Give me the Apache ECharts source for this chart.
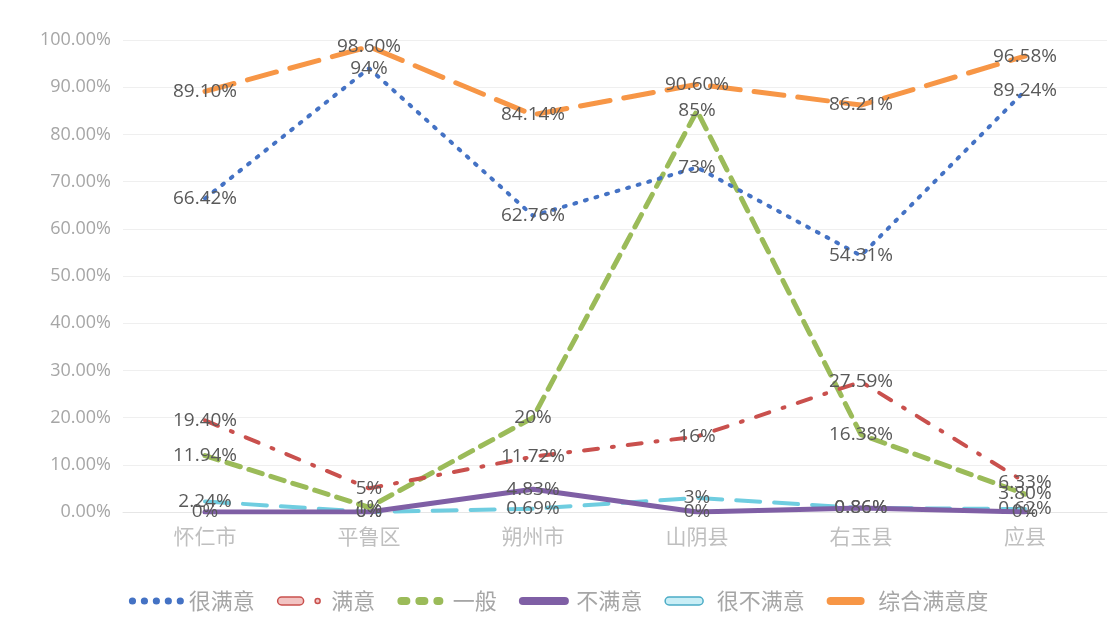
<!DOCTYPE html>
<html><head><meta charset="utf-8">
<script src="https://cdn.jsdelivr.net/npm/echarts@6/dist/echarts.min.js"></script>
<style>html,body{margin:0;padding:0;background:#fff}#c{width:1117px;height:639px}</style>
</head><body><div id="c"></div>
<script>
const categories = ['怀仁市','平鲁区','朔州市','山阴县','右玉县','应县'];
const seriesNames = ['很满意','满意','一般','不满意','很不满意','综合满意度'];
const veryGood = [66.42, 94, 62.76, 73, 54.31, 89.24];
const good = [19.40, 5, 11.72, 16, 27.59, 6.33];
const normal = [11.94, 1, 20, 85, 16.38, 3.80];
const bad = [0, 0, 4.83, 0, 0.86, 0];
const veryBad = [2.24, 0, 0.69, 3, 0.86, 0.62];
const overall = [89.10, 98.60, 84.14, 90.60, 86.21, 96.58];
const yTicks = [0,10,20,30,40,50,60,70,80,90,100];

const font = '"Open Sans","Noto Sans CJK SC",sans-serif';
function fmtLabel(p){
  const v = p.value;
  return Number.isInteger(v) ? v + '%' : v.toFixed(2) + '%';
}
function mk(name, data, color, width, type, z){
  return {
    name, type:'line', data, z,
    symbol:'circle', symbolSize:0.1, showSymbol:true,
    lineStyle:{color, width, type, cap:'round'},
    itemStyle:{color},
    label:{show:true, position:'inside', color:'#595959', fontSize:19, fontFamily:font, formatter:fmtLabel},
    emphasis:{disabled:true}, animation:false
  };
}
function circ(cx,cy,r){return `M${cx-r},${cy} a${r},${r} 0 1,0 ${2*r},0 a${r},${r} 0 1,0 ${-2*r},0 Z `;}
function rr(x,w,h){const r=h/2;return `M${x+r},0 L${x+w-r},0 A${r},${r} 0 0,1 ${x+w-r},${h} L${x+r},${h} A${r},${r} 0 0,1 ${x+r},0 Z `;}
const iconDots = 'path://' + [3,13,23,33,43].map(c=>circ(c,4,3)).join('');
const iconDashDot = 'path://' + rr(0,26,8) + circ(40,4,2.5);
const iconDash = 'path://' + rr(0,13,8) + rr(18,13,8) + rr(36,10,8);
const iconLine = 'path://' + rr(0,50,8);
const iconLong = 'path://' + rr(0,38,8);
const chart = echarts.init(document.getElementById('c'));
chart.setOption({
  backgroundColor:'#fff',
  animation:false,
  grid:{left:123, right:10, top:40, bottom:127},
  legend:{
    bottom:22, left:'center', itemWidth:55, itemHeight:8, itemGap:22,
    textStyle:{color:'#a6a6a6', fontSize:22, fontFamily:'"Noto Sans CJK SC",sans-serif'},
    data: [
      {name:seriesNames[0], icon:iconDots, itemStyle:{color:'#4472c4'}},
      {name:seriesNames[1], icon:iconDashDot, itemStyle:{color:'#f2c4c3', borderColor:'#c9504d', borderWidth:1.5}},
      {name:seriesNames[2], icon:iconDash, itemStyle:{color:'#9bbb59'}},
      {name:seriesNames[3], icon:iconLine, itemStyle:{color:'#7f5fa5'}},
      {name:seriesNames[4], icon:iconLong, itemStyle:{color:'#c9eef6', borderColor:'#4bacc6', borderWidth:1.5}},
      {name:seriesNames[5], icon:iconLong, itemStyle:{color:'#f79646'}}
    ]
  },
  xAxis:{type:'category', data:categories, boundaryGap:true,
    axisLine:{show:true, lineStyle:{color:'#e6e6e6'}}, axisTick:{show:false},
    axisLabel:{color:'#bfbfbf', fontSize:21, margin:14, fontFamily:'"Noto Sans CJK SC",sans-serif'}},
  yAxis:{type:'value', min:0, max:100, interval:10,
    axisLine:{show:false}, axisTick:{show:false},
    splitLine:{lineStyle:{color:'#efefef'}},
    axisLabel:{color:'#a6a6a6', fontSize:18, margin:12, fontFamily:font,
      formatter:v=> yTicks.includes(v) ? v.toFixed(2)+'%' : ''}},
  series:[
    mk('很满意', veryGood, '#4472c4', 4, [2,9], 5),
    mk('满意', good, '#c9504d', 4, [14,14,2,14], 4),
    mk('一般', normal, '#9bbb59', 5, [14,9], 3),
    mk('不满意', bad, '#7f5fa5', 5, 'solid', 2),
    mk('很不满意', veryBad, '#6fcde0', 4, [24,14], 1),
    mk('综合满意度', overall, '#f79646', 5, [30,14], 6)
  ]
});
</script></body></html>
